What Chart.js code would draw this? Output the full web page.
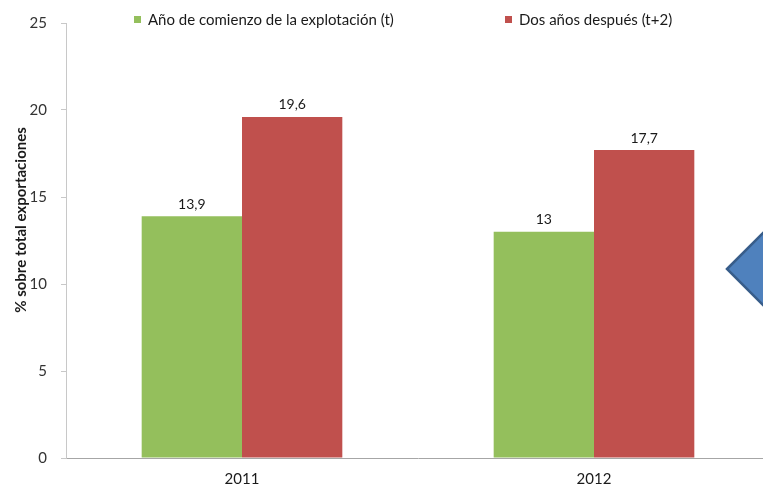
<!DOCTYPE html>
<html>
<head>
<meta charset="utf-8">
<script src="https://cdn.jsdelivr.net/npm/chart.js@4"></script>
<style>
  html, body { margin: 0; padding: 0; background: #fff; overflow: hidden; }
  #wrap { width: 770px; height: 488px; }
</style>
</head>
<body>
<div id="wrap"><canvas id="exportChart" width="770" height="488"></canvas></div>
<script>
// Data
const years = ['2011', '2012'];
const startYear = [13.9, 13];
const twoYearsLater = [19.6, 17.7];
const seriesNames = ['Año de comienzo de la explotación (t)', 'Dos años después (t+2)'];
const yTitle = '% sobre total exportaciones';

const FONT = 'Lato, "Open Sans", sans-serif';
const green = '#94bf5c';
const red = '#c0504d';

// Value labels above each bar, with a decimal comma
const valueLabels = {
    id: 'valueLabels',
    afterDatasetsDraw(chart) {
        const ctx = chart.ctx;
        ctx.save();
        ctx.font = '14px ' + FONT;
        ctx.fillStyle = '#1a1a1a';
        ctx.textAlign = 'center';
        ctx.textBaseline = 'bottom';
        chart.data.datasets.forEach((ds, i) => {
            chart.getDatasetMeta(i).data.forEach((bar, j) => {
                ctx.fillText(String(ds.data[j]).replace('.', ','), bar.x, bar.y - 5);
            });
        });
        ctx.restore();
    }
};

// Legend row and y axis title, plus the blue arrow shape on the right
const extras = {
    id: 'extras',
    afterDraw(chart) {
        const ctx = chart.ctx;
        ctx.save();

        // legend
        ctx.font = '15px ' + FONT;
        ctx.textBaseline = 'middle';
        ctx.textAlign = 'left';
        const starts = [134, 505];
        chart.data.datasets.forEach((ds, i) => {
            ctx.fillStyle = ds.backgroundColor;
            ctx.fillRect(starts[i], 16, 7, 7);
            ctx.fillStyle = '#1a1a1a';
            ctx.fillText(ds.label, starts[i] + 14, 20);
        });

        // y title
        ctx.font = 'bold 15px ' + FONT;
        ctx.fillStyle = '#1a1a1a';
        ctx.textAlign = 'center';
        ctx.translate(21, 220);
        ctx.rotate(-Math.PI / 2);
        ctx.fillText(yTitle, 0, 0);
        ctx.setTransform(1, 0, 0, 1, 0, 0);

        // arrow callout
        ctx.beginPath();
        ctx.moveTo(727, 269);
        ctx.lineTo(810, 186);
        ctx.lineTo(810, 352);
        ctx.closePath();
        ctx.fillStyle = '#4f81bd';
        ctx.fill();
        ctx.lineWidth = 2.5;
        ctx.strokeStyle = '#385d8a';
        ctx.stroke();

        ctx.restore();
    }
};

new Chart(document.getElementById('exportChart'), {
    type: 'bar',
    data: {
        labels: years,
        datasets: [
            { label: seriesNames[0], data: startYear, backgroundColor: green },
            { label: seriesNames[1], data: twoYearsLater, backgroundColor: red }
        ]
    },
    options: {
        responsive: false,
        animation: false,
        categoryPercentage: 0.57,
        barPercentage: 1,
        layout: { padding: { top: 20, right: 0, left: 0, bottom: 0 } },
        plugins: {
            legend: { display: false },
            tooltip: { enabled: false }
        },
        scales: {
            x: {
                grid: { display: false },
                border: { color: '#a6a6a6' },
                ticks: { color: '#1a1a1a', font: { family: FONT, size: 15 }, padding: 4 },
                afterFit(scale) { scale.height = 30; }
            },
            y: {
                min: 0,
                max: 25,
                ticks: { stepSize: 5, color: '#333', font: { family: FONT, size: 15 }, padding: 14 },
                grid: { drawOnChartArea: false, drawTicks: true, tickLength: 5, tickColor: '#c8c8c8' },
                border: { color: '#c8c8c8' },
                afterFit(scale) { scale.width = 66; }
            }
        }
    },
    plugins: [valueLabels, extras]
});
</script>
</body>
</html>
